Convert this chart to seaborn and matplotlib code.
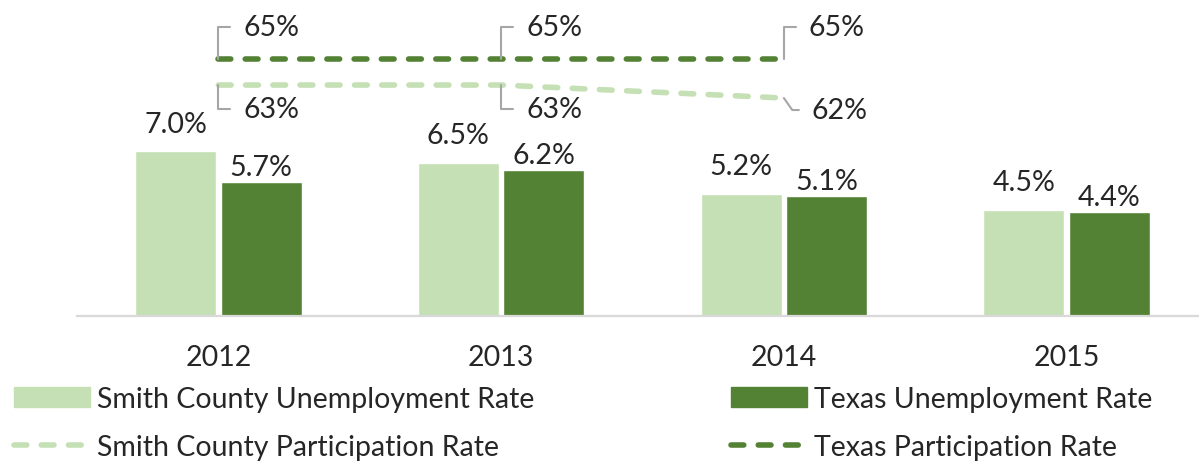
import numpy as np
import pandas as pd
import matplotlib
matplotlib.use("Agg")
import matplotlib.pyplot as plt
from matplotlib.patches import Patch
from matplotlib.lines import Line2D
import seaborn as sns

# ======================================
# Data
# ======================================

years = ["2012", "2013", "2014", "2015"]
smith_unemp = [7.0, 6.5, 5.2, 4.5]
texas_unemp = [5.7, 6.2, 5.1, 4.4]

line_years = ["2012", "2013", "2014"]
smith_part = [63, 63, 62]
texas_part = [65, 65, 65]

series_names = ["Smith County Unemployment Rate", "Texas Unemployment Rate"]
line_names = ["Smith County Participation Rate", "Texas Participation Rate"]

LIGHT = "#c5e0b4"
DARK = "#548235"
LEADER = "#a6a6a6"

# ======================================
# Style
# ======================================

sns.set_style("white")
plt.rcParams["font.family"] = ["Lato", "DejaVu Sans"]
FS = 20.5

df = pd.DataFrame({
    "year": years * 2,
    "rate": smith_unemp + texas_unemp,
    "series": [series_names[0]] * 4 + [series_names[1]] * 4,
})

fig = plt.figure(figsize=(11.99, 4.64), dpi=100)
ax = fig.add_axes([77 / 1199, 147 / 464, 1131 / 1199, 307 / 464])

sns.barplot(
    data=df,
    x="year",
    y="rate",
    hue="series",
    palette=[LIGHT, DARK],
    saturation=1,
    width=0.605,
    gap=0.054,
    ax=ax,
    legend=False,
)

ax.set_xlim(-0.5, 3.5)
ax.set_ylim(0, 13.04)
ax.set_xlabel("")
ax.set_ylabel("")
ax.set_yticks([])
for s in ["top", "left", "right"]:
    ax.spines[s].set_visible(False)
ax.spines["bottom"].set_color("#d9d9d9")
ax.spines["bottom"].set_linewidth(1.6)
ax.tick_params(axis="x", length=0, pad=20, labelsize=FS)

# Smith labels sit a bit higher than the Texas ones
for cont, vals, pad in zip(ax.containers, [smith_unemp, texas_unemp], [10.5, 1.5]):
    ax.bar_label(cont, labels=[f"{v:.1f}%" for v in vals], padding=pad, fontsize=FS)

# ======================================
# Participation lines (secondary axis)
# ======================================

ax2 = ax.twinx()
ax2.set_position(ax.get_position())
xpos = [years.index(y) for y in line_years]
dash = (0, (2.3, 2.6))

sns.lineplot(x=xpos, y=smith_part, ax=ax2, color=LIGHT, linewidth=4,
             linestyle=dash, dash_capstyle="round")
sns.lineplot(x=xpos, y=texas_part, ax=ax2, color=DARK, linewidth=4,
             linestyle=dash, dash_capstyle="round")

ax2.set_ylim(45.23, 68.85)
ax2.set_yticks([])
for s in ax2.spines.values():
    s.set_visible(False)


def leader(x, y, dx, dy, angle_b=90):
    ax2.annotate(
        f"{y}%",
        xy=(x, y),
        xytext=(dx, dy),
        textcoords="offset pixels",
        ha="left",
        va="center",
        fontsize=FS,
        arrowprops=dict(
            arrowstyle="-",
            color=LEADER,
            lw=1.5,
            connectionstyle=f"angle,angleA=0,angleB={angle_b},rad=0",
            relpos=(0, 0.5),
            shrinkA=7,
            shrinkB=0,
        ),
    )


for x, v in zip(xpos, texas_part):
    leader(x, v, 25, 32)

for i, (x, v) in enumerate(zip(xpos, smith_part)):
    if i == len(xpos) - 1:
        leader(x, v, 28, -12, angle_b=-55)
    else:
        leader(x, v, 25, -24)

# ======================================
# Legend
# ======================================

line_kw = dict(linewidth=4, linestyle=dash, dash_capstyle="round")
left_handles = [Patch(color=LIGHT), Line2D([], [], color=LIGHT, **line_kw)]
right_handles = [Patch(color=DARK), Line2D([], [], color=DARK, **line_kw)]

leg_kw = dict(
    loc="upper left",
    frameon=False,
    fontsize=FS,
    borderpad=0,
    borderaxespad=0,
    handlelength=2.67,
    handleheight=0.67,
    handletextpad=0.235,
    labelspacing=0.78,
)

fig.legend(left_handles, [series_names[0], line_names[0]],
           bbox_to_anchor=(14 / 1199, 1 - 387 / 464), **leg_kw)
fig.legend(right_handles, [series_names[1], line_names[1]],
           bbox_to_anchor=(731 / 1199, 1 - 387 / 464), **leg_kw)

fig.savefig("out.png", dpi=100)
